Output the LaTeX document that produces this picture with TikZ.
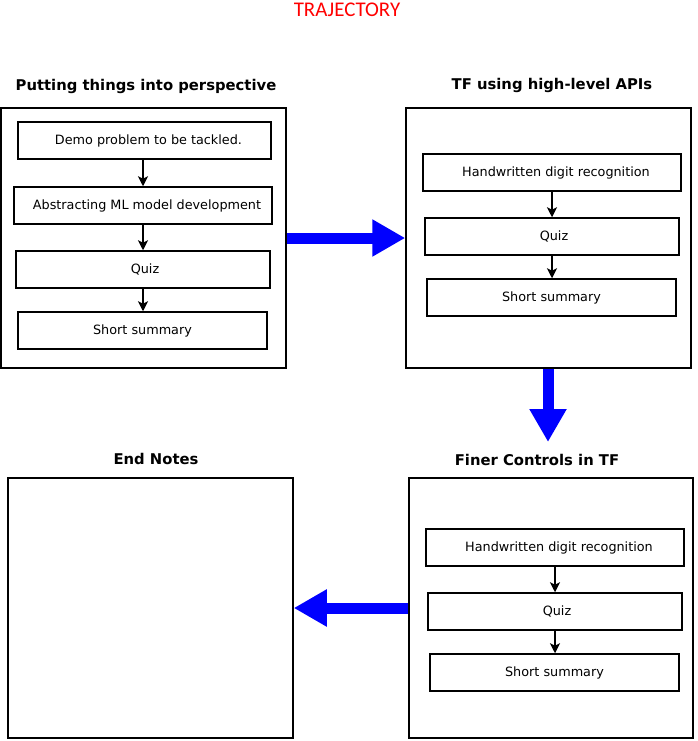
\documentclass[tikz,border=0pt]{standalone}
\usepackage{fontspec}
\setmainfont{DejaVu Sans}
\newfontfamily\titlefont{Carlito}
\usetikzlibrary{arrows.meta}
\newcommand{\sh}[1]{\hspace*{#1pt}}
\tikzset{
  outerbox/.style={draw, line width=1.5pt, minimum width=285pt, minimum height=260pt, inner sep=0pt},
  ibox/.style={draw, line width=1.5pt, minimum height=37pt, inner sep=0pt, font=\fontsize{12.8pt}{15pt}\selectfont},
  heading/.style={font=\fontsize{14.8pt}{17pt}\selectfont\bfseries, inner sep=0pt},
  flow/.style={line width=1.5pt, -{Stealth[length=10pt,width=10pt,inset=2.5pt]}},
  bigflow/.style={draw=blue, line width=11pt, -{Triangle[length=33pt,width=35pt,fill=blue]}, blue},
}
\begin{document}
\begin{tikzpicture}[x=1pt,y=-1pt]
\useasboundingbox (0,0) rectangle (697,741);
\node[font=\titlefont\fontsize{20.9pt}{23pt}\selectfont, text=red, inner sep=0pt] (title) at (347,10) {TRAJECTORY};

% box 1
\node[heading] (h1) at (146,86.5) {Putting things into perspective};
\node[outerbox] (b1) at (143.5,238) {};
\node[ibox, minimum width=253pt] (a1) at (144.5,140.5) {\sh{8}Demo problem to be tackled.};
\node[ibox, minimum width=258pt] (a2) at (143,205.5) {\sh{8}Abstracting ML model development};
\node[ibox, minimum width=254pt] (a3) at (143,269.5) {\sh{4}Quiz};
\node[ibox, minimum width=249pt] (a4) at (142.5,330.5) {Short summary};
\draw[flow] (a1.south -| a2.north) -- (a2.north);
\draw[flow] (a2.south) -- (a3.north);
\draw[flow] (a3.south) -- (a3.south |- a4.north);

% box 2
\node[heading] (h2) at (552,85.5) {TF using high-level APIs};
\node[outerbox] (b2) at (548.5,238) {};
\node[ibox, minimum width=258pt] (c1) at (552,172.5) {\sh{8}Handwritten digit recognition};
\node[ibox, minimum width=254pt] (c2) at (552,236.5) {\sh{4}Quiz};
\node[ibox, minimum width=249pt] (c3) at (551.5,297.5) {Short summary};
\draw[flow] (c1.south) -- (c2.north);
\draw[flow] (c2.south) -- (c2.south |- c3.north);

% box 3
\node[heading] (h3) at (537,460) {Finer Controls in TF};
\node[outerbox, minimum width=284pt] (b3) at (551,608) {};
\node[ibox, minimum width=258pt] (e1) at (555,547.5) {\sh{8}Handwritten digit recognition};
\node[ibox, minimum width=254pt] (e2) at (555,611.5) {\sh{4}Quiz};
\node[ibox, minimum width=249pt] (e3) at (554.5,672.5) {Short summary};
\draw[flow] (e1.south) -- (e2.north);
\draw[flow] (e2.south) -- (e2.south |- e3.north);

% box 4
\node[heading] (h4) at (156,459) {End Notes};
\node[outerbox] (b4) at (150.5,608) {};

% big arrows
\coordinate (d) at (548,442);
\draw[bigflow] (b1.east) -- (b2.west);
\draw[bigflow] (b2.south -| d) -- (d);
\draw[bigflow] (b3.west) -- (b4.east);
\end{tikzpicture}
\end{document}
